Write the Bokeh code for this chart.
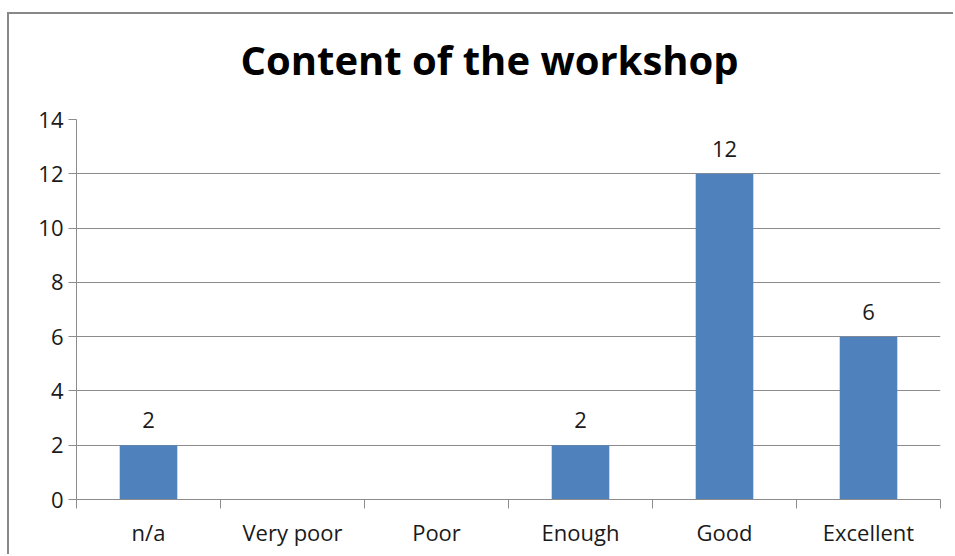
from bokeh.plotting import figure
from bokeh.models import ColumnDataSource, FixedTicker, Range1d, LabelSet, Title
from bokeh.core.properties import value
from bokeh.embed import file_html
from bokeh.resources import INLINE

categories = ["n/a", "Very poor", "Poor", "Enough", "Good", "Excellent"]
values = [2, 0, 0, 2, 12, 6]
y_ticks = [0, 2, 4, 6, 8, 10, 12, 14]
title_text = "Content of the workshop"

FONT = "Open Sans"
GRAY = "#8c8c8c"
TXT = "#1a1a1a"

xpos = [i + 0.5 for i in range(len(categories))]
labels = [str(v) if v != 0 else "" for v in values]
src = ColumnDataSource(dict(x=xpos, top=values, lab=labels))

# outer chart border offset (left 7 + 2 border, top 12 + 2 border)
OFF_X, OFF_Y = 9, 14
p = figure(width=955 - OFF_X, height=556 - OFF_Y, output_backend="svg", toolbar_location=None,
           x_range=Range1d(0, len(categories)), y_range=Range1d(0, 14),
           min_border_left=76 - OFF_X, min_border_right=15,
           min_border_top=119 - OFF_Y, min_border_bottom=556 - 499)
p.styles = {"margin-left": "7px", "margin-top": "12px",
            "border-left": "2px solid #888888", "border-top": "2px solid #888888"}
p.title = None
p.outline_line_color = None
p.background_fill_color = "white"
p.border_fill_color = "white"

p.vbar(x="x", top="top", width=0.4, bottom=0, source=src, fill_color="#4F81BD", line_color=None)

p.add_layout(LabelSet(x="x", y="top", text="lab", source=src, text_align="center",
                      text_baseline="alphabetic", y_offset=17, text_font=value(FONT),
                      text_font_size=value("22px"), text_color=TXT))

p.xgrid.grid_line_color = None
p.ygrid.grid_line_color = GRAY
p.ygrid.grid_line_width = 1
p.ygrid.ticker = FixedTicker(ticks=y_ticks)

p.yaxis.ticker = FixedTicker(ticks=y_ticks)
p.yaxis.axis_line_color = GRAY
p.yaxis.major_tick_line_color = GRAY
p.yaxis.major_tick_out = 8
p.yaxis.major_tick_in = 0
p.yaxis.minor_tick_line_color = None
p.yaxis.major_label_text_font = FONT
p.yaxis.major_label_text_font_size = "22px"
p.yaxis.major_label_text_color = TXT
p.yaxis.major_label_standoff = 5

p.xaxis.ticker = FixedTicker(ticks=xpos, minor_ticks=list(range(len(categories) + 1)))
p.xaxis.major_label_overrides = {x: c for x, c in zip(xpos, categories)}
p.xaxis.axis_line_color = GRAY
p.xaxis.major_tick_line_color = None
p.xaxis.major_tick_out = 0
p.xaxis.major_tick_in = 0
p.xaxis.minor_tick_line_color = GRAY
p.xaxis.minor_tick_out = 9
p.xaxis.minor_tick_in = 0
p.xaxis.major_label_text_font = FONT
p.xaxis.major_label_text_font_size = "22px"
p.xaxis.major_label_text_color = TXT
p.xaxis.major_label_standoff = 8

# invisible spacer between the plot frame and the title
p.add_layout(Title(text=" ", text_font_size="10px", text_color="white", standoff=18), "above")
p.add_layout(Title(text=title_text, text_font=FONT, text_font_style="bold",
                   text_font_size="40px", text_color="#000000", align="left",
                   vertical_align="top", standoff=0, offset=164), "above")

open("out.html", "w").write(file_html(p, INLINE))
